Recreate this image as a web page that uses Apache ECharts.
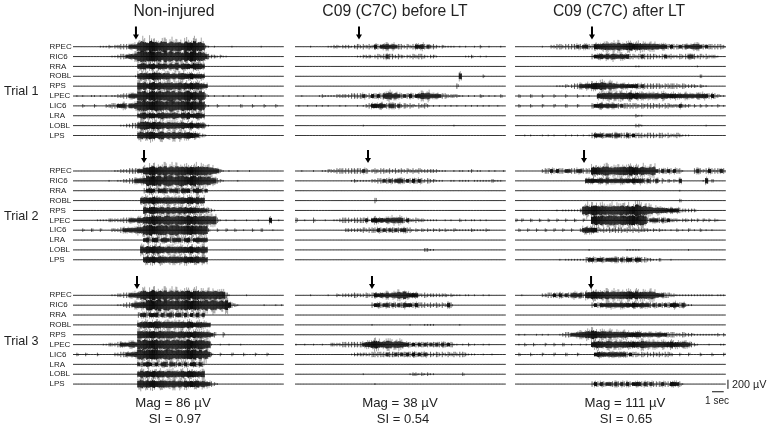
<!DOCTYPE html>
<html><head><meta charset="utf-8">
<style>html,body{margin:0;background:#fff}#c{width:770px;height:429px}#c canvas{filter:blur(0.35px)}</style>
<script src="https://cdn.jsdelivr.net/npm/echarts@6/dist/echarts.min.js"></script>
</head><body><div id="c"></div>
<script>
// Channel order, top to bottom, in every panel
const channels = ["RPEC","RIC6","RRA","ROBL","RPS","LPEC","LIC6","LRA","LOBL","LPS"];
const columnTitles = ["Non-injured","C09 (C7C) before LT","C09 (C7C) after LT"];
const trialLabels = ["Trial 1","Trial 2","Trial 3"];
const magLabels = ["Mag = 86 \u00b5V","Mag = 38 \u00b5V","Mag = 111 \u00b5V"];
const siLabels = ["SI = 0.97","SI = 0.54","SI = 0.65"];

// Each row: [first quarter-second bin, rectified amplitude per bin in base-36, units of 20 uV]
const t1NonInjured = [
 [9,"11121223334459ca9dab9ca8ba9a8b9ac9a82101000001000000000100000"],
 [13,"112334556bcdabcab9cab9ba8caba9a953221211"],
 [22,"56745647554657465647564"],
 [21,"167767878676565676565454"],
 [22,"778679786878678676867654"],
 [0,"01010011010101122334559ab8ab9ba9bab8a9ab9a8a931010010100101000101"],
 [0,"0002000200022334453556abca9bcab9acb9abab9a9a92100200010002000200020002"],
 [22,"45746546756475465745654"],
 [16,"11223378987878767676676565654"+"21"],
 [22,"676787678676767667654321"]];
const t1Before = [
 [0,"000001000001122122212323232434554543323234453423212111101010010200100010"],
 [21,"112221232343323212232332122100000000011200101"],
 [0,""],
 [26,"00000000000000000000000000000060000000200"],
 [55,"3"],
 [0,"00100000121111222223333423434366756434343456675454332222110101021010102010"],
 [0,"01001001010100010100010123454543543423232132320101010101001010101010010"],
 [0,""],
 [18,"000001000000000000000000000000000000100"],
 [0,""]];
const t1After = [
 [4,"000001002233233334344335667677786778767676666554343343445654343333323332"],
 [26,"34454546545453323433332234232232344323232221"],
 [41,"1100000000000000000001"],
 [63,"2"],
 [10,"00001112123344556778767654544444343333332333332322221211"],
 [0,"020002000200020002000201010056767676776767656565656554545454545454343211"],
 [0,"020002000200020002000200003445454443433333232333232332224222020202010201"],
 [41,"211"],
 [41,"2210000000000000000000001"],
 [0,"000101000101010001010101013444344344334343332333233232232111"]];

const t2NonInjured = [
 [14,"1122233344789a8a9a8a9a9a98a8a9a98765210100100010"],
 [12,"1001122334557bacab9acb9abca9ab9a98a65321000010"],
 [24,"3454354534453545345434"],
 [23,"6767867676767676776766"],
 [24,"7678767676767676765554321"],
 [8,"1111222223344455788a9a89a98a9a8a9a98a9a89310100100010001000500100"],
 [0,"000200200200022234455567abca9acb9abca9aba9a9a9200200200200100200200010"],
 [24,"4534534543545345345454"],
 [23,"76878787676767676767676"],
 [24,"6767676767676676767665"]];
const t2Before = [
 [0,"001000100112223333333334312323323232323232322222211100101101201100101001"],
 [19,"12111112233434345434343432322111001101111011111121110"],
 [0,""],
 [27,"3"],
 [0,""],
 [0,"3001003000100112333233334145454546565342232211111001010020101101010"],
 [17,"22222232333434343434433121212121212112111112111121"],
 [0,""],
 [44,"2211"],
 [0,""]];
const t2After = [
 [9,"233434334433443338798a987989a8a9879878943434343310003432343334343332111"],
 [24,"5454454544545454545434324131212140000000160200"],
 [56,"1"],
 [56,"2"],
 [14,"1011111129a9abaa9a8a9ab9a9adb9a87665654444322222"],
 [0,"202002002002002002002002008a9ba9aba9ab9ac9ba93444343422212212120212021"],
 [0,"020020020020020020020025655532323233323232322212121101020102010201010"],
 [0,""],
 [25,"100000000000011111000000000000000010"],
 [15,"101111111344344344443434434433221120001"]];

const t3NonInjured = [
 [13,"11223344569a89b9a9a8a9a8a9a89a8a898a9873100000100"],
 [15,"1123345667bcabdabc9ab9acb9ab9ac9ba9a9a6321000000001000101010001"],
 [22,"34534453434534534343434"],
 [22,"5676767867676767676556554"],
 [22,"787878787878767767676766543003"],
 [10,"112223444565a9ba9ab9a9a9ab9a9ba9a9a88100100100010"],
 [0,"0200200020000022334455ac9bacb9abca9ab9abab9a8a6200200020002000200020"],
 [22,"43454343453443434345343"],
 [22,"67676767767676676767666"],
 [22,"7878787778777676767676654321"]];
const t3Before = [
 [0,"000001000001002122223222323445454567695454223222222212111011010010100"],
 [26,"3443443434354434333232323243"],
 [0,""],
 [26,"1000000000000100001111000000001"],
 [0,""],
 [0,"1001001001002222333333345678767876776543434343434343431101020100101"],
 [19,"1222222333334334343434343423232323232332111001001"],
 [0,""],
 [23,"10000000000000001221212110000000002"],
 [27,"1"]];
const t3After = [
 [0,"0010000002233434343454536787887878878888787787875443322111111111111101112"],
 [26,"34344454545454544544343434345435211"],
 [0,""],
 [0,""],
 [0,"0101000101010001233445567898777776666655555444444444333223222111111112022"],
 [0,"010200200020020020010010105677677676676576677666666566555654321000100011"],
 [0,"020002000200020002000200000454545454543433232323232332002002000200020002"],
 [0,""],
 [0,""],
 [26,"34343443434343444343433343344431"]];

const panels = [
 [t1NonInjured,t1Before,t1After],
 [t2NonInjured,t2Before,t2After],
 [t3NonInjured,t3Before,t3After]];

// Arrow onset per panel, seconds from the panel's left edge
const arrowSeconds = [[5.38,5.47,6.58],[6.07,6.24,5.9],[5.47,6.58,6.5]];
const arrowHeightsUv = [301,319,282];

const SEC_TOTAL = 18.5, BIN_SEC = 0.25, BIN_COUNT = 72;
const ROW_UV = 217, UNIT_UV = 20;
const colLeft = [73,295,515], rowTop = [17.1,141.4,265.7];
const gridW = 216.45, gridH = 138.1;

const scaleBarTime = [[16.84,-2122],[17.84,-2122]];
const scaleBarAmp = [[18.2,-1858],[18.2,-2058]];

// Stroke heights within a bin; a long uneven list so that no repeat shows along a trace
const strokeShape = [1,0.42,0.74,0.3,0.95,0.55,0.38,0.88,0.62,0.27,0.8,1,0.47,0.33,0.7,0.92,0.36,0.58,0.25,0.84,0.66,1,0.31,0.5,0.78,0.41,0.97,0.6,0.29,0.72,0.52];

function renderBin(params, api){
  const t = api.value(0), base = api.value(1), units = api.value(2);
  const [x, y] = api.coord([t, base]);
  const w = api.size([BIN_SEC, 0])[0];
  const a = api.size([0, units*UNIT_UV])[1];
  const kids = [{type:'rect',shape:{x:x,y:y-0.5,width:w+0.2,height:1},style:{fill:'#333'}}];
  if(units>0){
    const n = params.dataIndex, L = strokeShape.length;
    const s0=strokeShape[n%L], s1=strokeShape[(n+11)%L], s2=strokeShape[(n+19)%L];
    const outer={stroke:'rgba(40,40,40,0.42)',lineWidth:1};
    const inner={stroke:'rgba(0,0,0,0.9)',lineWidth:1};
    if(units<=3){
      kids.push({type:'line',shape:{x1:x+1,y1:y-a,x2:x+1,y2:y+a},style:{stroke:'rgba(0,0,0,0.7)',lineWidth:0.9}});
      if(units>=2) kids.push({type:'line',shape:{x1:x+2.4,y1:y-a*s0,x2:x+2.4,y2:y+a*s1},style:{stroke:'rgba(0,0,0,0.55)',lineWidth:0.9}});
    } else {
      kids.push({type:'line',shape:{x1:x+0.5,y1:y-a*s0,x2:x+0.5,y2:y+a*s1},style:outer});
      kids.push({type:'line',shape:{x1:x+1.5,y1:y-a*s1,x2:x+1.5,y2:y+a*s2},style:outer});
      kids.push({type:'line',shape:{x1:x+2.5,y1:y-a*s2,x2:x+2.5,y2:y+a*s0},style:outer});
      const c0=a*0.5*(0.72+0.28*s0)+0.3, c1=a*0.5*(0.72+0.28*s1)+0.3, c2=a*0.5*(0.72+0.28*s2)+0.3;
      kids.push({type:'line',shape:{x1:x+0.5,y1:y-c1,x2:x+0.5,y2:y+c2},style:inner});
      kids.push({type:'line',shape:{x1:x+1.5,y1:y-c2,x2:x+1.5,y2:y+c0},style:inner});
      kids.push({type:'line',shape:{x1:x+2.5,y1:y-c0,x2:x+2.5,y2:y+c1},style:inner});
    }
  }
  return {type:'group',children:kids};
}

const grid=[],xAxis=[],yAxis=[],series=[],title=[];
function text(s,cx,cy,size,align){
  title.push({text:s,left:cx,top:cy,textAlign:align||'center',textVerticalAlign:'middle',padding:0,
    textStyle:{fontFamily:'"Liberation Sans",Arial,sans-serif',fontWeight:'normal',fontSize:size,color:'#222'}});
}
panels.forEach((row,r)=>row.forEach((traces,c)=>{
  const idx=grid.length;
  grid.push({left:colLeft[c],top:rowTop[r],width:gridW,height:gridH});
  xAxis.push({type:'value',gridIndex:idx,min:0,max:SEC_TOTAL,show:false});
  yAxis.push({type:'value',gridIndex:idx,min:-ROW_UV*11,max:ROW_UV*3,interval:ROW_UV,show:c===0,
    axisLine:{show:false},axisTick:{show:false},splitLine:{show:false},
    axisLabel:{show:c===0,align:'left',margin:23.5,fontSize:8,color:'#222',fontFamily:'"Liberation Sans",Arial,sans-serif',
      formatter:v=>channels[Math.round(-v/ROW_UV)]||''}});
  const data=[];
  traces.forEach(([start,amps],k)=>{
    for(let b=0;b<BIN_COUNT;b++){
      const ch=b>=start?amps[b-start]:undefined;
      data.push([b*BIN_SEC,-k*ROW_UV,ch?parseInt(ch,36):0]);
    }
  });
  series.push({type:'custom',xAxisIndex:idx,yAxisIndex:idx,renderItem:renderBin,data:data,silent:true,clip:false,animation:false});
  series.push({type:'scatter',xAxisIndex:idx,yAxisIndex:idx,silent:true,clip:false,
    symbol:'path://M2 0H4V8H6L3 13L0 8H2Z',symbolSize:[6,13],itemStyle:{color:'#000',opacity:1},
    data:[[arrowSeconds[r][c],arrowHeightsUv[r]]],animation:false,z:5});
}));
// scale bars in the last panel
[scaleBarTime,scaleBarAmp].forEach(d=>series.push({type:'line',xAxisIndex:8,yAxisIndex:8,data:d,showSymbol:false,silent:true,clip:false,
  lineStyle:{color:'#111',width:1},animation:false}));

const titleX=[174,395,619], magX=[173,400,625], siX=[175,403,626];
columnTitles.forEach((s,i)=>text(s,titleX[i],11.5,15.7));
const trialY=[91.5,217,342];
trialLabels.forEach((s,i)=>text(s,4,trialY[i],12.6,'left'));
magLabels.forEach((s,i)=>text(s,magX[i],403.5,13.2));
siLabels.forEach((s,i)=>text(s,siX[i],419.5,13));
text("200 \u00b5V",732,385.5,10.8,'left');
text("1 sec",717,401,10,'center');

const chart=echarts.init(document.getElementById('c'),null,{renderer:'canvas',width:770,height:429});
chart.setOption({animation:false,backgroundColor:'#fff',title,grid,xAxis,yAxis,series});
</script></body></html>
